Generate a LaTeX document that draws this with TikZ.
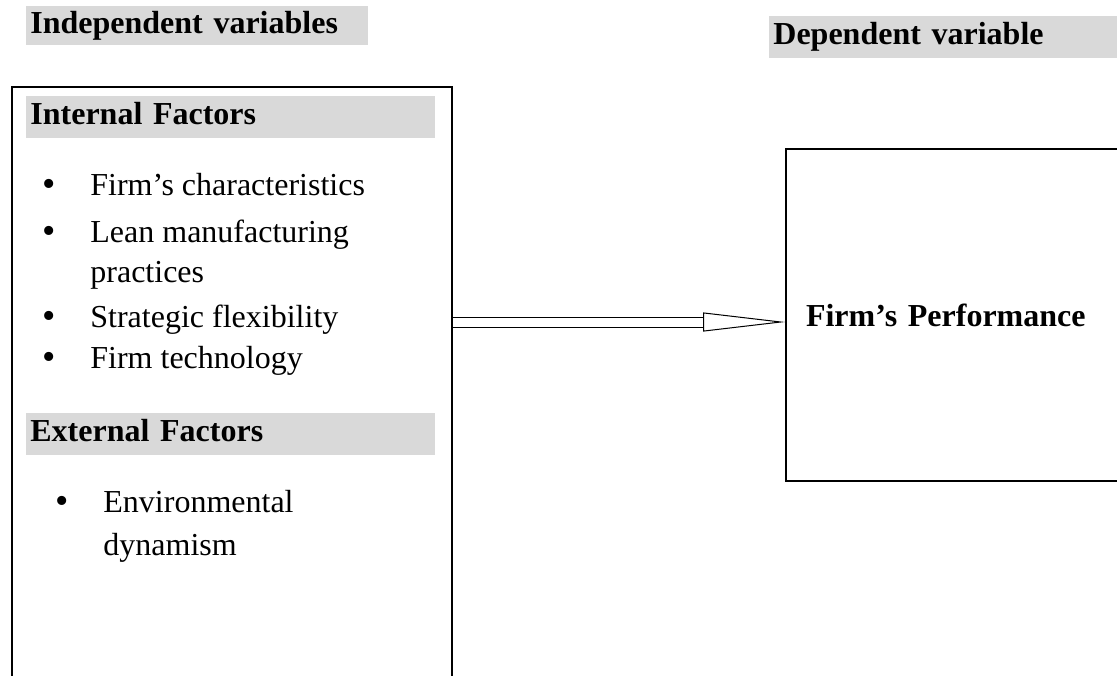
\documentclass[tikz,border=0pt]{standalone}
\usepackage{fontspec}
\setmainfont{Liberation Serif}
\usetikzlibrary{arrows.meta,positioning}
\definecolor{headgray}{RGB}{217,217,217}
\tikzstyle{heading} = [fill=headgray, anchor=north west, inner xsep=2pt, inner ysep=0pt, text height=11pt, text depth=3.5pt, align=left, font=\fontsize{16}{19}\selectfont\bfseries]
\tikzstyle{frame} = [draw, line width=1pt, anchor=north west, inner sep=0pt]
\tikzstyle{item} = [anchor=base west, inner sep=0pt, font=\fontsize{16}{19}\selectfont]
\tikzstyle{bul} = [anchor=center, inner sep=0pt, font=\fontsize{19}{19}\selectfont]
\tikzstyle{connector} = [double, double distance=4.5pt, line width=0.5pt, -{Triangle[open, length=41pt, width=9.5pt]}]

\begin{document}
\begin{tikzpicture}[x=0.5pt, y=-0.5pt]
    \useasboundingbox (0,0) rectangle (1117,675);
    \clip (0,0) rectangle (1117,675);

    % Headings
    \node[heading, text width=167pt, minimum height=19.5pt] (indephead) at (26,6) {Independent variables};
    \node[heading, text width=172pt, minimum height=21pt] (dephead) at (769,16) {Dependent variable};

    % Independent variables
    \node[frame, minimum width=220pt, minimum height=320pt] (indep) at (11,86) {};
    \node[heading, text width=200.5pt, minimum height=21pt] (inthead) at (26,96) {Internal Factors};
    \foreach \txt/\yy [count=\k] in {Firm’s characteristics/195, Lean manufacturing/242, Strategic flexibility/327, Firm technology/368} {
        \node[bul] (intbul\k) at (49,\yy-7) {\textbullet};
        \node[item] (intitem\k) at (90,\yy) {\txt};
    }
    \node[item] (intcont) at (90,282) {practices};

    \node[heading, text width=200.5pt, minimum height=21pt] (exthead) at (26,413) {External Factors};
    \node[bul] (extbul) at (62,505) {\textbullet};
    \node[item] (extitem) at (103,512) {Environmental};
    \node[item] (extcont) at (103,555) {dynamism};

    % Dependent variable
    \node[frame, minimum width=200pt, minimum height=166pt, inner xsep=10pt, text width=180pt, align=left, font=\fontsize{16}{19}\selectfont\bfseries] (perf) at (785,148) {Firm’s Performance};

    % Arrow
    \coordinate (tip) at ([yshift=-3.5pt]perf.west);
    \draw[connector] (indep.east |- tip) -- (tip);
\end{tikzpicture}
\end{document}
